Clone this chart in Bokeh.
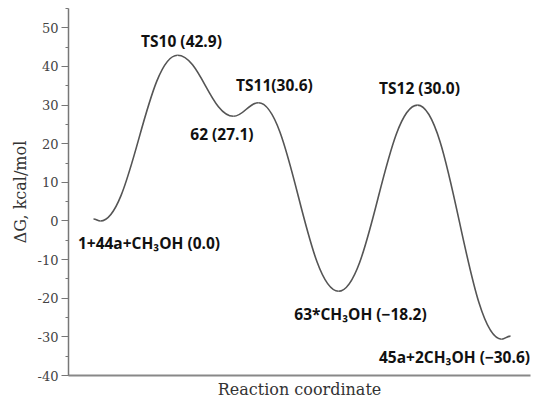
from bokeh.plotting import figure
from bokeh.models import ColumnDataSource, LabelSet, SingleIntervalTicker, FixedTicker, Range1d, PrintfTickFormatter
from bokeh.core.properties import value
from bokeh.embed import file_html
from bokeh.resources import INLINE

# Stationary points along the reaction coordinate (arbitrary units) and free energies (kcal/mol)
point_x = [2.5, 3.2, 10.9, 16.5, 19.0, 27.0, 34.9, 43.3, 44.2]
point_g = [0.5, 0.0, 42.9, 27.1, 30.6, -18.2, 30.0, -30.6, -29.8]

# Point labels
label_text = ["1+44a+CH\u2083OH (0.0)", "TS10 (42.9)", "62 (27.1)", "TS11(30.6)",
              "63*CH\u2083OH (\u221218.2)", "TS12 (30.0)", "45a+2CH\u2083OH (\u221230.6)"]
label_x = [8.05, 11.3, 15.35, 20.6, 29.2, 35.1, 38.6]
label_g = [-5.8, 46.6, 22.4, 35.2, -24.0, 34.3, -35.1]

x_title = "Reaction coordinate"
y_title = "\u0394G, kcal/mol"

SERIF = "DejaVu Serif"

k = 0.4
x0 = point_x[:-1]; x1 = point_x[1:]
y0 = point_g[:-1]; y1 = point_g[1:]
cx0 = [a + k * (b - a) for a, b in zip(x0, x1)]
cx1 = [b - k * (b - a) for a, b in zip(x0, x1)]
seg = ColumnDataSource(dict(x0=x0, y0=y0, x1=x1, y1=y1, cx0=cx0, cy0=y0, cx1=cx1, cy1=y1))

p = figure(width=534, height=401, output_backend="svg", toolbar_location=None,
           x_range=Range1d(0, 46.2), y_range=Range1d(-40, 55),
           min_border_left=68, min_border_right=4, min_border_top=8, min_border_bottom=23)
p.outline_line_color = None
p.grid.visible = False
p.background_fill_color = "white"
p.border_fill_color = "white"

p.bezier(x0="x0", y0="y0", x1="x1", y1="y1", cx0="cx0", cy0="cy0", cx1="cx1", cy1="cy1",
         source=seg, line_color="#555555", line_width=1.6)

lab = ColumnDataSource(dict(x=label_x, y=label_g, t=label_text))
p.add_layout(LabelSet(x="x", y="y", text="t", source=lab, text_font=value("Open Sans"),
                      text_font_style="bold", text_font_size=value("15.5px"), text_color="#111111",
                      text_align="center", text_baseline="middle"))

ya = p.yaxis[0]
ya.ticker = SingleIntervalTicker(interval=10, num_minor_ticks=2)
ya.formatter = PrintfTickFormatter(format="%d")
ya.axis_line_color = "#777777"
ya.axis_line_width = 1.5
ya.major_tick_line_color = "#777777"
ya.minor_tick_line_color = "#777777"
ya.major_tick_in = 0
ya.major_tick_out = 7
ya.minor_tick_in = 0
ya.minor_tick_out = 3
ya.major_label_text_font = SERIF
ya.major_label_text_font_size = "13px"
ya.major_label_text_color = "#444444"
ya.major_label_standoff = 3
ya.axis_label = y_title
ya.axis_label_text_font = SERIF
ya.axis_label_text_font_size = "16px"
ya.axis_label_text_font_style = "normal"
ya.axis_label_text_color = "#333333"
ya.axis_label_standoff = 5

xa = p.xaxis[0]
xa.ticker = FixedTicker(ticks=[])
xa.axis_line_color = "#888888"
xa.axis_line_width = 2
xa.major_tick_out = 0
xa.major_tick_in = 0
xa.minor_tick_out = 0
xa.major_label_standoff = 0
xa.axis_label = x_title
xa.axis_label_text_font = SERIF
xa.axis_label_text_font_size = "16px"
xa.axis_label_text_font_style = "normal"
xa.axis_label_text_color = "#333333"
xa.axis_label_standoff = 4

open("out.html", "w").write(file_html(p, INLINE))
